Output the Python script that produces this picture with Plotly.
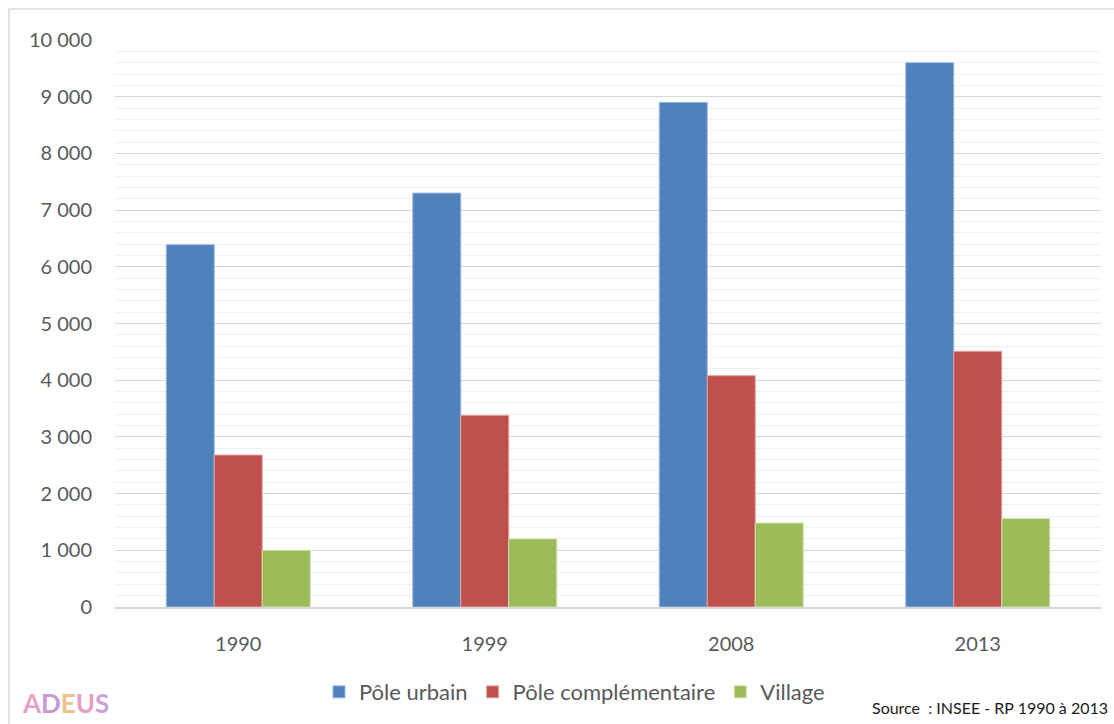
import plotly.graph_objects as go

# données
annees = ["1990", "1999", "2008", "2013"]
pole_urbain = [6390, 7300, 8900, 9600]
pole_complementaire = [2680, 3380, 4080, 4510]
village = [1000, 1200, 1480, 1560]

series = [
    ("Pôle urbain", pole_urbain, "#4f81bd", "#9bb7dd"),
    ("Pôle complémentaire", pole_complementaire, "#c0504d", "#e0a3a1"),
    ("Village", village, "#9bbb59", "#cfe0ac"),
]

police = "Lato, 'Open Sans', sans-serif"
gris = "#595959"

fig = go.Figure()
for nom, valeurs, couleur, bord in series:
    fig.add_trace(go.Bar(
        x=annees, y=valeurs, name=nom,
        marker=dict(color=couleur, line=dict(color=bord, width=1)),
    ))

fig.update_layout(
    width=1114, height=724,
    margin=dict(l=115, r=13, t=40, b=116),
    plot_bgcolor="white", paper_bgcolor="white",
    barmode="group", bargap=0.416, bargroupgap=0,
    separators=", ",
    font=dict(family=police, size=20, color=gris),
    showlegend=True,
    legend=dict(
        orientation="h", x=0.466, xanchor="center", y=-0.148, yanchor="middle",
        font=dict(size=22, color=gris), itemwidth=30,
    ),
)

fig.update_yaxes(
    range=[0, 10000], dtick=1000, tickformat=",d",
    showgrid=True, gridcolor="#d6d6d6", gridwidth=1.3,
    minor=dict(dtick=200, showgrid=True, gridcolor="#f0f0f0", gridwidth=1.3),
    zeroline=False, showline=False, ticks="",
    ticklabelstandoff=22,
    tickfont=dict(size=20, color=gris),
)
fig.update_xaxes(
    showline=True, linecolor="#d6d6d6", linewidth=1.5,
    ticks="", ticklabelstandoff=18,
    tickfont=dict(size=20, color=gris),
)

# cadre du graphique
fig.add_shape(type="rect", xref="paper", yref="paper",
              x0=-0.1075, y0=1.0546, x1=1.03, y1=-0.24,
              line=dict(color="#d9d9d9", width=1.5), layer="below")

fig.add_annotation(
    text="Source  : INSEE - RP 1990 à 2013",
    xref="paper", yref="paper", x=1.009, y=-0.178,
    xanchor="right", yanchor="middle", showarrow=False,
    font=dict(family=police, size=16, color="#1a1a1a"),
)

# logo ADEUS
logo = ("<b><span style='color:#e2a3c6'>A</span>"
        "<span style='color:#c99ad0'>D</span>"
        "<span style='color:#efc08a'>E</span>"
        "<span style='color:#e6a0c8'>U</span>"
        "<span style='color:#c9a2d6'>S</span></b>")
fig.add_annotation(
    text=logo, xref="paper", yref="paper", x=-0.0497, y=-0.17,
    xanchor="center", yanchor="middle", showarrow=False,
    font=dict(family=police, size=26),
)

fig.write_html("out.html", config={"displayModeBar": False},
               post_script="document.body.style.margin='0';")
